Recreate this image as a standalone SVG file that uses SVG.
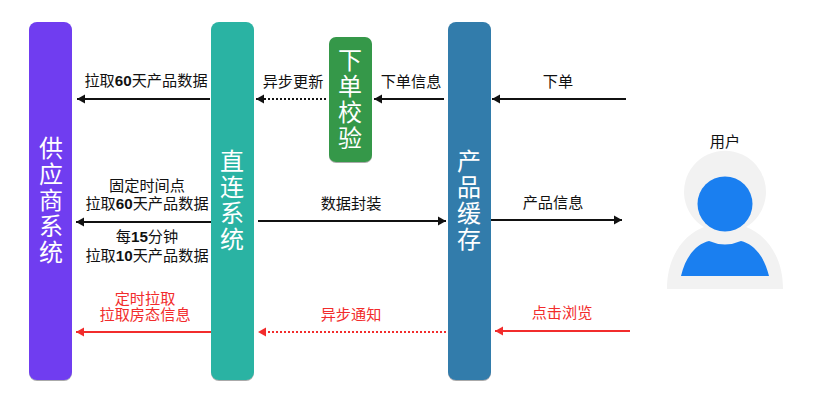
<svg xmlns="http://www.w3.org/2000/svg" width="818" height="404" viewBox="0 0 818 404">
<style>
text{font-family:"Liberation Sans","Noto Sans CJK SC",sans-serif}
.t{font-size:15.2px;fill:#111;text-anchor:middle}
.r{fill:#f22c2c}
.b{font-weight:700}
.big{font-size:24px;fill:#fff;text-anchor:middle}
.k{fill:none;stroke:#111;stroke-width:2}
.kr{fill:none;stroke:#f22c2c;stroke-width:2}
.d{stroke-dasharray:2 2}
.n{filter:url(#s)}
</style>
<defs>
<filter id="s" x="-10%" y="-5%" width="120%" height="110%"><feDropShadow dx="0" dy="1" stdDeviation="0.7" flood-color="#555" flood-opacity="0.5"/></filter>
<marker id="a" markerUnits="userSpaceOnUse" markerWidth="10" markerHeight="10" refX="8" refY="5" orient="auto"><path d="M0 0.5L8 5L0 9.5Z" fill="#111"/></marker>
<marker id="ar" markerUnits="userSpaceOnUse" markerWidth="10" markerHeight="10" refX="8" refY="5" orient="auto"><path d="M0 0.5L8 5L0 9.5Z" fill="#f22c2c"/></marker>
</defs>
<g id="connectors">
<path class="k" d="M210 99H77" marker-end="url(#a)"/>
<path class="k d" d="M326 99H256" marker-end="url(#a)"/>
<path class="k" d="M444 99H374" marker-end="url(#a)"/>
<path class="k" d="M626 99H492" marker-end="url(#a)"/>
<path class="k" d="M211 222H76" marker-end="url(#a)"/>
<path class="k" d="M258 221H446" marker-end="url(#a)"/>
<path class="k" d="M491 220H622" marker-end="url(#a)"/>
<path class="kr" d="M211 332H76" marker-end="url(#ar)"/>
<path class="kr d" d="M446 332H258" marker-end="url(#ar)"/>
<path class="kr" d="M630 331H495" marker-end="url(#ar)"/>
</g>
<g id="supplier"><rect class="n" x="29" y="22" width="43" height="358" rx="8" fill="#6f3df0"/>
<text class="big"><tspan x="51" y="157">供</tspan><tspan x="51" y="183">应</tspan><tspan x="51" y="209">商</tspan><tspan x="51" y="235">系</tspan><tspan x="51" y="261">统</tspan></text></g>
<g id="direct"><rect class="n" x="211" y="22" width="43" height="358" rx="8" fill="#2ab3a3"/>
<text class="big"><tspan x="232" y="170">直</tspan><tspan x="232" y="196">连</tspan><tspan x="232" y="222">系</tspan><tspan x="232" y="248">统</tspan></text></g>
<g id="check"><rect class="n" x="329" y="37" width="43" height="125" rx="7" fill="#36984a"/>
<text class="big"><tspan x="350" y="69">下</tspan><tspan x="350" y="95">单</tspan><tspan x="350" y="121">校</tspan><tspan x="350" y="147">验</tspan></text></g>
<g id="cache"><rect class="n" x="448" y="22" width="43" height="358" rx="8" fill="#327cab"/>
<text class="big"><tspan x="469" y="170">产</tspan><tspan x="469" y="196">品</tspan><tspan x="469" y="222">缓</tspan><tspan x="469" y="248">存</tspan></text></g>
<g id="user">
<path d="M667 289C667 255 685 234 704 227A41 41 0 1 1 746 227C765 234 783 255 783 289Z" fill="#f2f2f2"/>
<circle cx="725" cy="204" r="27.5" fill="#1a7ff0"/>
<path d="M681 276C686 255 697 244 709 241Q725 248 741 241C753 244 764 255 769 276Z" fill="#1a7ff0"/>
<text class="t" x="725" y="147">用户</text>
</g>
<g id="labels">
<text class="t" x="146" y="86">拉取<tspan class="b">60</tspan>天产品数据</text>
<text class="t" x="293" y="87">异步更新</text>
<text class="t" x="411" y="87">下单信息</text>
<text class="t" x="558" y="87">下单</text>
<text class="t" x="147" y="191">固定时间点</text>
<text class="t" x="147" y="209">拉取<tspan class="b">60</tspan>天产品数据</text>
<text class="t" x="147" y="242">每<tspan class="b">15</tspan>分钟</text>
<text class="t" x="147" y="261">拉取<tspan class="b">10</tspan>天产品数据</text>
<text class="t" x="351" y="209">数据封装</text>
<text class="t" x="553" y="208">产品信息</text>
<text class="t r" x="145" y="304">定时拉取</text>
<text class="t r" x="145" y="320">拉取房态信息</text>
<text class="t r" x="351" y="320">异步通知</text>
<text class="t r" x="562" y="318">点击浏览</text>
</g>
</svg>
